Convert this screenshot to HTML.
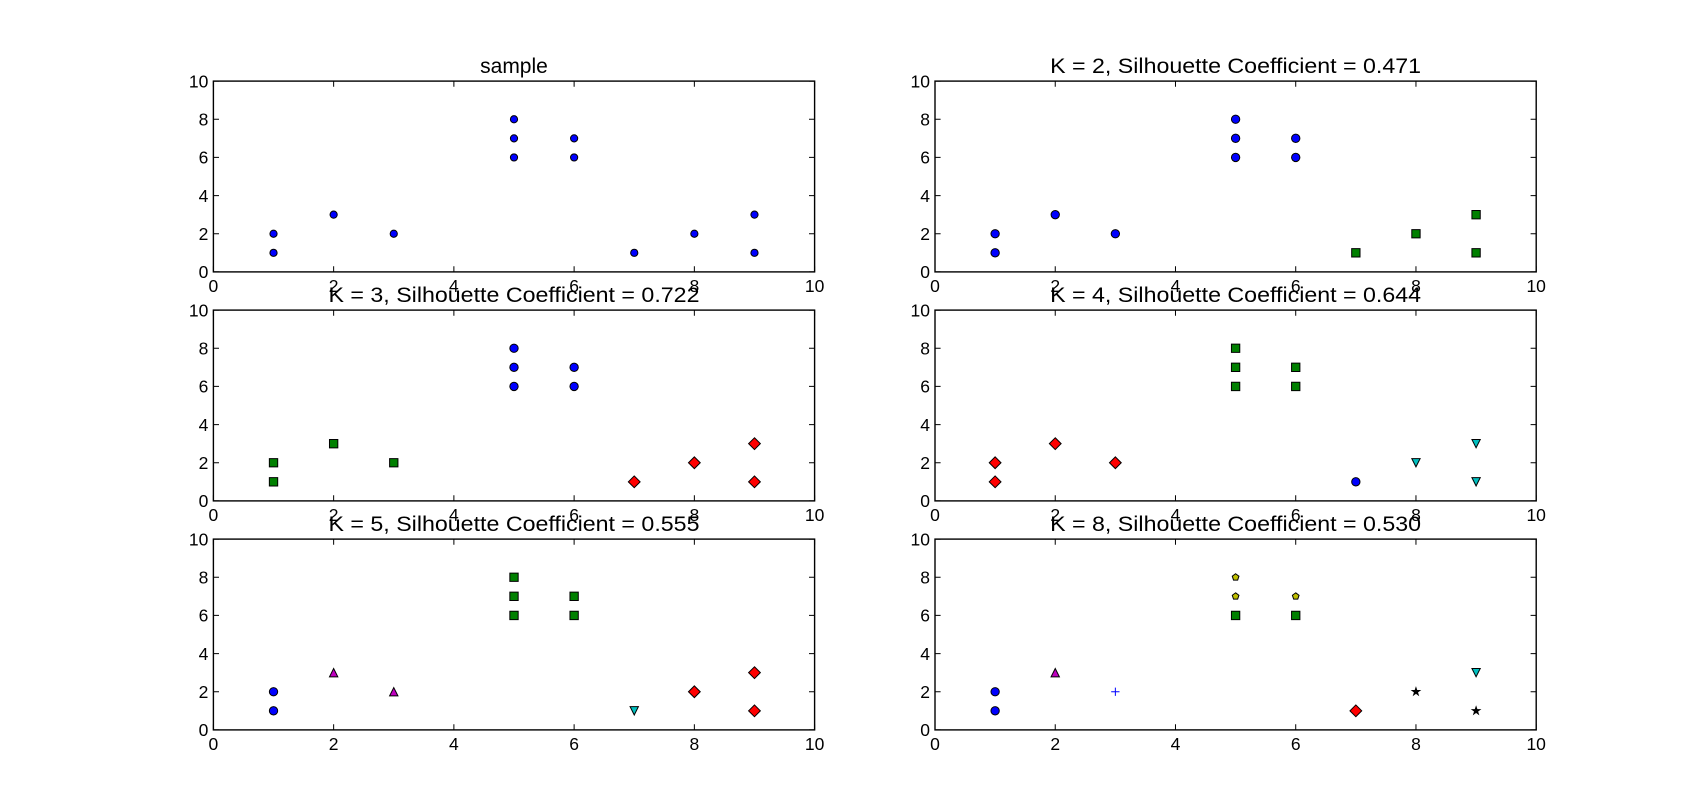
<!DOCTYPE html>
<html><head><meta charset="utf-8"><style>
html,body{margin:0;padding:0;background:#fff;}
svg{display:block;}
text{font-family:"Liberation Sans",sans-serif;fill:#000;}
.xl{font-size:17.5px;text-anchor:middle;}
.yl{font-size:17.5px;text-anchor:end;}
.tt{font-size:21px;text-anchor:middle;}
</style></head><body>
<svg id="s" xmlns="http://www.w3.org/2000/svg" width="1707" height="811" viewBox="0 0 1707 811">
<rect width="1707" height="811" fill="#fff"/>
<g id="p0" transform="translate(213.4,81.1)">
<text class="tt" x="300.6" y="-8">sample</text>
<text class="xl" x="0" y="211">0</text><text class="xl" x="120.2" y="211">2</text><text class="xl" x="240.5" y="211">4</text><text class="xl" x="360.7" y="211">6</text><text class="xl" x="481" y="211">8</text><text class="xl" x="601.2" y="211">10</text>
<text class="yl" x="-5" y="197">0</text><text class="yl" x="-5" y="158.8">2</text><text class="yl" x="-5" y="120.7">4</text><text class="yl" x="-5" y="82.5">6</text><text class="yl" x="-5" y="44.4">8</text><text class="yl" x="-5" y="6.2">10</text>
</g>
<g id="p1" transform="translate(935,81.1)">
<text class="tt" x="300.6" y="-8" textLength="371" lengthAdjust="spacingAndGlyphs">K = 2, Silhouette Coefficient = 0.471</text>
<text class="xl" x="0" y="211">0</text><text class="xl" x="120.2" y="211">2</text><text class="xl" x="240.5" y="211">4</text><text class="xl" x="360.7" y="211">6</text><text class="xl" x="481" y="211">8</text><text class="xl" x="601.2" y="211">10</text>
<text class="yl" x="-5" y="197">0</text><text class="yl" x="-5" y="158.8">2</text><text class="yl" x="-5" y="120.7">4</text><text class="yl" x="-5" y="82.5">6</text><text class="yl" x="-5" y="44.4">8</text><text class="yl" x="-5" y="6.2">10</text>
</g>
<g id="p2" transform="translate(213.4,310.1)">
<text class="tt" x="300.6" y="-8" textLength="371" lengthAdjust="spacingAndGlyphs">K = 3, Silhouette Coefficient = 0.722</text>
<text class="xl" x="0" y="211">0</text><text class="xl" x="120.2" y="211">2</text><text class="xl" x="240.5" y="211">4</text><text class="xl" x="360.7" y="211">6</text><text class="xl" x="481" y="211">8</text><text class="xl" x="601.2" y="211">10</text>
<text class="yl" x="-5" y="197">0</text><text class="yl" x="-5" y="158.8">2</text><text class="yl" x="-5" y="120.7">4</text><text class="yl" x="-5" y="82.5">6</text><text class="yl" x="-5" y="44.4">8</text><text class="yl" x="-5" y="6.2">10</text>
</g>
<g id="p3" transform="translate(935,310.1)">
<text class="tt" x="300.6" y="-8" textLength="371" lengthAdjust="spacingAndGlyphs">K = 4, Silhouette Coefficient = 0.644</text>
<text class="xl" x="0" y="211">0</text><text class="xl" x="120.2" y="211">2</text><text class="xl" x="240.5" y="211">4</text><text class="xl" x="360.7" y="211">6</text><text class="xl" x="481" y="211">8</text><text class="xl" x="601.2" y="211">10</text>
<text class="yl" x="-5" y="197">0</text><text class="yl" x="-5" y="158.8">2</text><text class="yl" x="-5" y="120.7">4</text><text class="yl" x="-5" y="82.5">6</text><text class="yl" x="-5" y="44.4">8</text><text class="yl" x="-5" y="6.2">10</text>
</g>
<g id="p4" transform="translate(213.4,539.1)">
<text class="tt" x="300.6" y="-8" textLength="371" lengthAdjust="spacingAndGlyphs">K = 5, Silhouette Coefficient = 0.555</text>
<text class="xl" x="0" y="211">0</text><text class="xl" x="120.2" y="211">2</text><text class="xl" x="240.5" y="211">4</text><text class="xl" x="360.7" y="211">6</text><text class="xl" x="481" y="211">8</text><text class="xl" x="601.2" y="211">10</text>
<text class="yl" x="-5" y="197">0</text><text class="yl" x="-5" y="158.8">2</text><text class="yl" x="-5" y="120.7">4</text><text class="yl" x="-5" y="82.5">6</text><text class="yl" x="-5" y="44.4">8</text><text class="yl" x="-5" y="6.2">10</text>
</g>
<g id="p5" transform="translate(935,539.1)">
<text class="tt" x="300.6" y="-8" textLength="371" lengthAdjust="spacingAndGlyphs">K = 8, Silhouette Coefficient = 0.530</text>
<text class="xl" x="0" y="211">0</text><text class="xl" x="120.2" y="211">2</text><text class="xl" x="240.5" y="211">4</text><text class="xl" x="360.7" y="211">6</text><text class="xl" x="481" y="211">8</text><text class="xl" x="601.2" y="211">10</text>
<text class="yl" x="-5" y="197">0</text><text class="yl" x="-5" y="158.8">2</text><text class="yl" x="-5" y="120.7">4</text><text class="yl" x="-5" y="82.5">6</text><text class="yl" x="-5" y="44.4">8</text><text class="yl" x="-5" y="6.2">10</text>
</g>
</svg>
<script>
var NS="http://www.w3.org/2000/svg",W=601.2,H=190.8,ux=W/10,uy=H/10;
function el(g,t,a){var e=document.createElementNS(NS,t);for(var k in a)e.setAttribute(k,a[k]);g.appendChild(e);return e;}
var B="#0000ff",G="#008000",R="#ff0000",C="#00bfbf",M="#bf00bf",Y="#bfbf00",K="#000";
function mk(g,type,col,x,y,s){
 var cx=x*ux,cy=H-y*uy,h=(s||8.33)/2,st={fill:col,stroke:"#000","stroke-width":1};
 function poly(pts){var p=pts.map(function(q){return (cx+q[0]).toFixed(2)+","+(cy+q[1]).toFixed(2)}).join(" ");var a=Object.assign({points:p},st);el(g,"polygon",a);}
 if(type=="o"){el(g,"circle",Object.assign({cx:cx,cy:cy,r:h},st));}
 else if(type=="s"){poly([[-h,-h],[h,-h],[h,h],[-h,h]]);}
 else if(type=="D"){var d=h*1.414;poly([[0,-d],[d,0],[0,d],[-d,0]]);}
 else if(type=="^"){poly([[0,-h],[h,h],[-h,h]]);}
 else if(type=="v"){poly([[0,h],[h,-h],[-h,-h]]);}
 else if(type=="p"||type=="*"){var pts=[],n=type=="p"?5:10;for(var i=0;i<n;i++){var r=h;if(type=="*"&&i%2)r=h*0.381;var an=-Math.PI/2+i*2*Math.PI/n;pts.push([r*Math.cos(an),r*Math.sin(an)]);}poly(pts);}
 else if(type=="+"){el(g,"path",{d:"M"+(cx-h)+","+cy+"H"+(cx+h)+"M"+cx+","+(cy-h)+"V"+(cy+h),stroke:col,"stroke-width":1,fill:"none"});}
}
var L=[[1,1],[1,2],[2,3],[3,2]],Cn=[[5,6],[5,7],[5,8],[6,6],[6,7]],Rt=[[7,1],[8,2],[9,1],[9,3]];
var data=[
 [["o",B,L.concat(Cn,Rt),7.2]],
 [["o",B,L.concat(Cn)],["s",G,Rt]],
 [["o",B,Cn],["s",G,L],["D",R,Rt]],
 [["D",R,L],["s",G,Cn],["o",B,[[7,1]]],["v",C,[[8,2],[9,1],[9,3]]]],
 [["o",B,[[1,1],[1,2]]],["^",M,[[2,3],[3,2]]],["s",G,Cn],["v",C,[[7,1]]],["D",R,[[8,2],[9,1],[9,3]]]],
 [["o",B,[[1,1],[1,2]]],["^",M,[[2,3]]],["+",B,[[3,2]]],["p",Y,[[5,7],[5,8],[6,7]],7],["s",G,[[5,6],[6,6]]],["D",R,[[7,1]]],["*",K,[[8,2],[9,1]],8],["v",C,[[9,3]]]]
];
for(var p=0;p<6;p++){
 var g=document.getElementById("p"+p);
 data[p].forEach(function(s){s[2].forEach(function(q){mk(g,s[0],s[1],q[0],q[1],s[3]);});});
 var t="";
 for(var i=0;i<=5;i++){var x=i*W/5,y=i*H/5;t+="M"+x+",0v5.6M"+x+","+H+"v-5.6M0,"+y+"h5.6M"+W+","+y+"h-5.6";}
 el(g,"path",{d:t,stroke:"#000","stroke-width":1,fill:"none"});
 el(g,"rect",{x:0,y:0,width:W,height:H,fill:"none",stroke:"#000","stroke-width":1.4});
}
</script>
</body></html>
